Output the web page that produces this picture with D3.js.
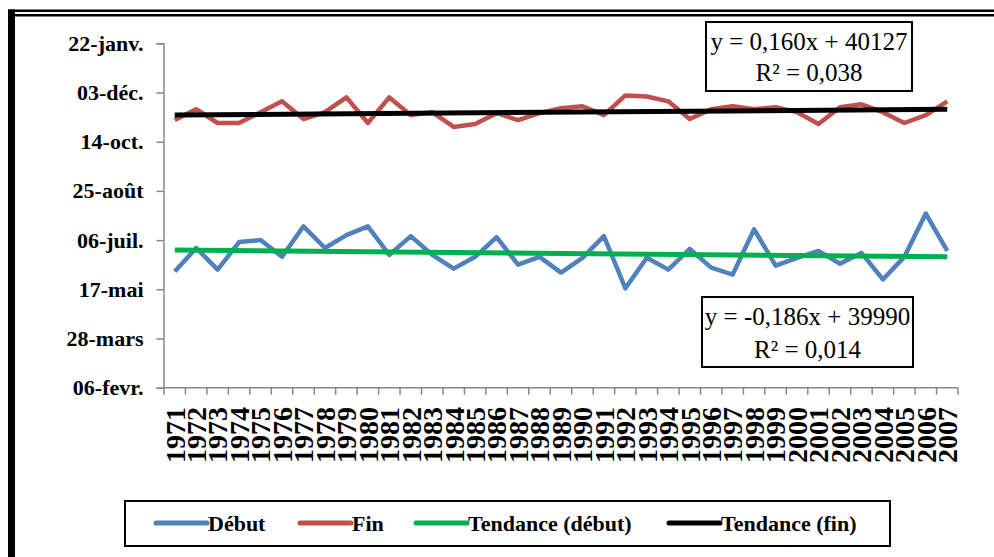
<!DOCTYPE html>
<html>
<head>
<meta charset="utf-8">
<script src="https://cdn.jsdelivr.net/npm/d3@7"></script>
<style>
  body { margin: 0; background: #fff; }
</style>
</head>
<body>
<svg class="plot" width="994" height="557"></svg>
<script>
// years on the category axis
var years = d3.range(1971, 2008).map(String);

// dates as Excel serial numbers (day counts)
var debut = [39968, 39992, 39970, 39998, 40000, 39983, 40014, 39992, 40005, 40014,
             39985, 40004, 39985, 39971, 39983, 40003, 39975, 39983, 39967, 39982,
             40004, 39951, 39982, 39970, 39991, 39972, 39965, 40011, 39974, 39982,
             39989, 39976, 39987, 39960, 39983, 40027, 39989];
var fin = [40122, 40133, 40119, 40119, 40130, 40141, 40123, 40130, 40145, 40119,
           40145, 40127, 40130, 40115, 40118, 40129, 40122, 40129, 40134, 40136,
           40127, 40147, 40146, 40141, 40123, 40133, 40136, 40133, 40135, 40130,
           40118, 40135, 40138, 40130, 40119, 40127, 40141];

// trend equations shown on the chart: [slope, intercept]
var trendDebut = [-0.186, 39990];
var trendFin = [0.160, 40127];

// y ticks
var yTicks = [39850, 39900, 39950, 40000, 40050, 40100, 40150, 40200];
var yLabels = ["06-fevr.", "28-mars", "17-mai", "06-juil.", "25-août", "14-oct.", "03-déc.", "22-janv."];

var legendNames = ["Début", "Fin", "Tendance (début)", "Tendance (fin)"];
var colors = ["#4F81BD", "#C0504D", "#00B050", "#000000"];

var FONT = "Liberation Serif";
var svg = d3.select(".plot").attr("font-family", FONT);

// frame
svg.append("rect").attr("x", 8).attr("y", 9.5).attr("width", 986).attr("height", 2.5).attr("fill", "#000");
svg.append("rect").attr("x", 8).attr("y", 14).attr("width", 986).attr("height", 2.5).attr("fill", "#000");
svg.append("rect").attr("x", 8).attr("y", 9.5).attr("width", 7).attr("height", 548).attr("fill", "#000");

//set up scales
var x = d3.scaleBand().domain(years).range([164, 958]).padding(0),
    y = d3.scaleLinear().domain([39850, 40200]).range([387.7, 43.3]);
var bw = x.bandwidth();
function cx(i) { return x(years[i]) + bw / 2; }

//y axis
var yAxis = svg.append("g")
    .attr("transform", "translate(163.5,0)")
    .call(d3.axisLeft(y).tickValues(yTicks).tickSize(7).tickPadding(13)
      .tickFormat(function(d, i) { return yLabels[i]; }));
yAxis.attr("font-family", FONT).attr("font-size", 22);
yAxis.select(".domain").attr("stroke", "#868686").attr("stroke-width", 1.5);
yAxis.selectAll(".tick line").attr("stroke", "#868686").attr("stroke-width", 1.5);
yAxis.selectAll(".tick text")
    .attr("font-family", FONT).attr("font-size", 22).attr("font-weight", "bold")
    .attr("fill", "#000");

//x axis
var xg = svg.append("g").attr("transform", "translate(0," + y(39850) + ")");
xg.append("line").attr("x1", 163.5).attr("x2", 958).attr("stroke", "#868686").attr("stroke-width", 1.5);
xg.selectAll(".xt")
    .data(years.map(function(d) { return x(d); }).concat([x.range()[1]]))
    .enter().append("line")
    .attr("x1", function(d) { return d; }).attr("x2", function(d) { return d; })
    .attr("y1", 0).attr("y2", 7)
    .attr("stroke", "#868686").attr("stroke-width", 1.5);
svg.selectAll(".year")
    .data(years)
    .enter().append("text")
    .attr("class", "year")
    .attr("transform", function(d) { return "translate(" + (x(d) + bw / 2) + ",407) rotate(-90)"; })
    .attr("dy", "0.35em")
    .attr("text-anchor", "end")
    .attr("font-family", FONT).attr("font-size", 28).attr("font-weight", "bold")
    .text(function(d) { return d; });

//data lines
var line = d3.line()
    .x(function(d, i) { return cx(i); })
    .y(function(d) { return y(d); });

[debut, fin].forEach(function(s, k) {
  svg.append("path")
      .attr("d", line(s))
      .attr("fill", "none")
      .attr("stroke", colors[k])
      .attr("stroke-width", 4.5)
      .attr("stroke-linejoin", "round");
});

//trend lines from the equations (x = 1..37)
[trendDebut, trendFin].forEach(function(t, k) {
  var n = years.length;
  svg.append("line")
      .attr("x1", cx(0)).attr("y1", y(t[0] * 1 + t[1]))
      .attr("x2", cx(n - 1)).attr("y2", y(t[0] * n + t[1]))
      .attr("stroke", colors[k + 2])
      .attr("stroke-width", 5);
});

//equation boxes
function eqBox(bx, by, bwid, bh, lines, base) {
  svg.append("rect").attr("x", bx).attr("y", by).attr("width", bwid).attr("height", bh)
      .attr("fill", "#fff").attr("stroke", "#000").attr("stroke-width", 2);
  lines.forEach(function(t, i) {
    svg.append("text")
        .attr("x", bx + bwid / 2).attr("y", base[i])
        .attr("text-anchor", "middle")
        .attr("font-family", FONT).attr("font-size", 25)
        .text(t);
  });
}
eqBox(706, 22, 206, 69, ["y = 0,160x + 40127", "R² = 0,038"], [50, 81]);
eqBox(702, 297, 211, 70, ["y = -0,186x + 39990", "R² = 0,014"], [325, 358]);

//legend
svg.append("rect").attr("x", 125).attr("y", 501).attr("width", 765).attr("height", 45)
    .attr("fill", "#fff").attr("stroke", "#000").attr("stroke-width", 2);
var legX = [156, 300, 416, 669];
legendNames.forEach(function(name, i) {
  svg.append("line")
      .attr("x1", legX[i]).attr("x2", legX[i] + 51)
      .attr("y1", 523).attr("y2", 523)
      .attr("stroke", colors[i]).attr("stroke-width", 5).attr("stroke-linecap", "round");
  svg.append("text")
      .attr("x", legX[i] + 52).attr("y", 531)
      .attr("font-family", FONT).attr("font-size", 22).attr("font-weight", "bold")
      .text(name);
});
</script>
</body>
</html>
